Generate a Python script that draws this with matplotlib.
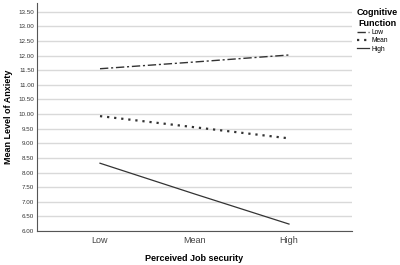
import matplotlib.pyplot as plt
from matplotlib.lines import Line2D

plt.rcParams["font.family"] = ["Liberation Sans", "DejaVu Sans"]

categories = ["Low", "Mean", "High"]
groups = ["Low", "Mean", "High"]
anxiety_low = [11.55, 11.78, 12.02]
anxiety_mean = [9.93, 9.55, 9.17]
anxiety_high = [8.32, 7.27, 6.24]
yticks = [6.0 + 0.5 * i for i in range(16)]

fig = plt.figure(figsize=(4.0, 2.65), dpi=100)
ax = fig.add_axes([0.0925, 0.128, 0.7875, 0.861])

x = list(range(len(categories)))
styles = [(0, (6, 2, 1.5, 2)), (0, (1, 2.2)), "-"]
widths = [1.0, 1.6, 0.9]
for vals, ls, lw, lab in zip([anxiety_low, anxiety_mean, anxiety_high], styles, widths, groups):
    ax.plot(x, vals, color="#333333", linestyle=ls, linewidth=lw, label=lab)

ax.set_xlim(-2 / 3, 2 + 2 / 3)
ax.set_ylim(6.0, 13.8)
ax.set_yticks(yticks)
ax.set_yticklabels([f"{v:.2f}" for v in yticks], fontsize=4.5, color="#333333")
ax.set_xticks(x)
ax.set_xticklabels(categories, fontsize=6.5, color="#444444")
ax.tick_params(axis="both", length=0, pad=2)
ax.tick_params(axis="x", pad=3.5)
ax.grid(axis="y", color="#d9d9d9", linewidth=1.0)
ax.set_axisbelow(True)
for side in ["top", "right"]:
    ax.spines[side].set_visible(False)
for side in ["left", "bottom"]:
    ax.spines[side].set_color("#555555")
    ax.spines[side].set_linewidth(0.8)

ax.set_xlabel("Perceived Job security", fontsize=6.5, fontweight="bold", labelpad=6.5)
ax.set_ylabel("Mean Level of Anxiety", fontsize=6.5, fontweight="bold", labelpad=4)

handles = [Line2D([0], [0], color="#333333", linestyle=ls, linewidth=lw) for ls, lw in zip(styles, widths)]
leg = fig.legend(handles, groups, loc="upper left", bbox_to_anchor=(0.8775, 0.992),
                 title="Cognitive\nFunction", frameon=False, fontsize=4.8,
                 handlelength=1.8, handletextpad=0.4, labelspacing=0.2,
                 title_fontproperties={"weight": "bold", "size": 6.5})
leg._legend_box.align = "left"
leg.get_title().set_multialignment("center")

fig.savefig("out.png", dpi=100)
